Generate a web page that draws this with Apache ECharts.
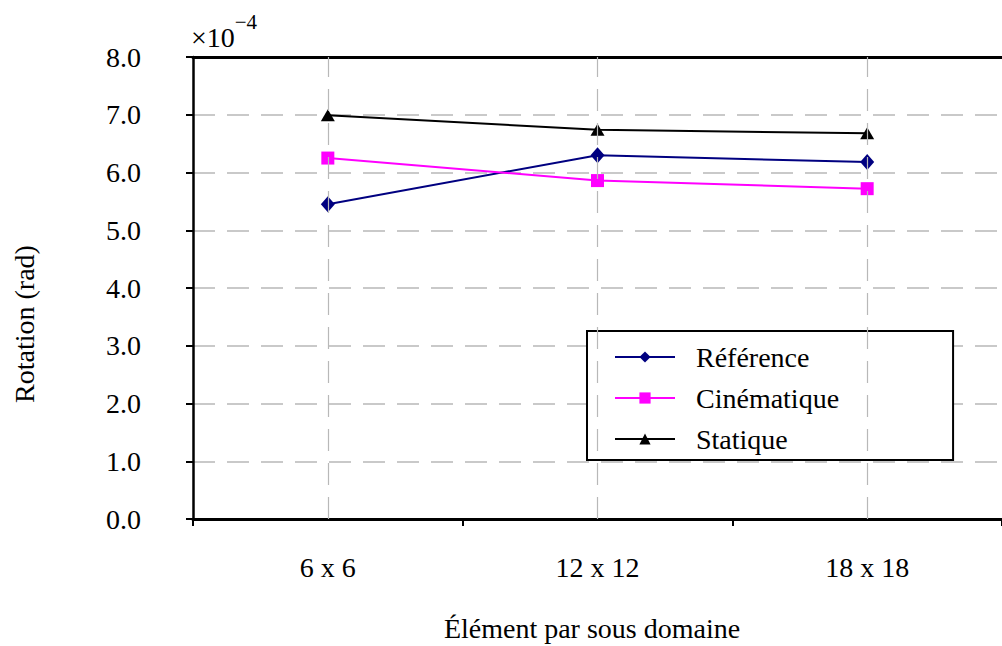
<!DOCTYPE html>
<html>
<head>
<meta charset="utf-8">
<title>Rotation par sous domaine</title>
<script src="https://cdn.jsdelivr.net/npm/echarts@6/dist/echarts.min.js"></script>
<style>
  html, body { margin: 0; padding: 0; background: #ffffff; }
  #chart { width: 1002px; height: 646px; }
</style>
</head>
<body>
<div id="chart"></div>
<script>
// Maillage : nombre d'éléments par sous domaine
const categories = ['6 x 6', '12 x 12', '18 x 18'];

// Rotation en unités de 1e-4 rad
const reference   = [5.45, 6.30, 6.18];
const cinematique = [6.25, 5.86, 5.72];
const statique    = [6.99, 6.74, 6.68];

const yMin = 0, yMax = 8, yStep = 1;

const FONT = '"Liberation Serif", "Times New Roman", serif';
const GRID_GRAY = '#b8b8b8';

const chart = echarts.init(document.getElementById('chart'), null, { renderer: 'svg' });

chart.setOption({
  backgroundColor: '#ffffff',
  animation: false,
  title: {
    text: '{m|×10}{s|−4}',
    left: 186,
    top: 6,
    textStyle: {
      fontWeight: 'normal',
      rich: {
        m: { fontFamily: FONT, fontSize: 28, fontWeight: 'normal', color: '#000', verticalAlign: 'bottom', padding: [12, 0, 0, 0] },
        s: { fontFamily: FONT, fontSize: 21, fontWeight: 'normal', color: '#000', verticalAlign: 'top' }
      }
    }
  },
  grid: { left: 193, top: 57, width: 816, height: 462, containLabel: false },
  legend: {
    orient: 'vertical',
    left: 587,
    top: 331,
    itemWidth: 60,
    itemHeight: 14,
    itemGap: 13,
    padding: [12, 114, 7, 27],
    borderColor: '#000',
    borderWidth: 2,
    backgroundColor: '#ffffff',
    textStyle: { fontFamily: FONT, fontSize: 28, color: '#000', padding: [0, 0, 0, 16] },
    data: ['Référence', 'Cinématique', 'Statique']
  },
  xAxis: [
    {
      type: 'category',
      data: categories,
      position: 'bottom',
      boundaryGap: true,
      axisLine: { lineStyle: { color: '#000', width: 3 } },
      axisTick: { show: true, length: 7, lineStyle: { color: '#000', width: 2 } },
      axisLabel: { fontFamily: FONT, fontSize: 28, color: '#000', margin: 34 },
      splitLine: { show: false }
    },
    {
      type: 'category',
      data: categories,
      position: 'top',
      boundaryGap: true,
      axisLine: { lineStyle: { color: '#000', width: 3 } },
      axisTick: { show: false },
      axisLabel: { show: false },
      splitLine: { show: false }
    }
  ],
  yAxis: {
    type: 'value',
    min: yMin,
    max: yMax,
    interval: yStep,
    axisLine: { show: true, lineStyle: { color: '#000', width: 2.5 } },
    axisTick: { show: true, inside: false, length: 7, lineStyle: { color: '#000', width: 2 } },
    axisLabel: {
      fontFamily: FONT, fontSize: 28, color: '#000', margin: 52,
      formatter: v => v.toFixed(1)
    },
    splitLine: { show: true, lineStyle: { color: GRID_GRAY, width: 1.5, type: [22, 12] } }
  },
  series: [
    {
      // lignes verticales pointillées au centre de chaque catégorie
      name: 'grille',
      type: 'line',
      data: [],
      silent: true,
      z: 1,
      markLine: {
        silent: true,
        symbol: 'none',
        label: { show: false },
        lineStyle: { color: GRID_GRAY, width: 1.2, type: [22, 12] },
        data: categories.map(c => ({ xAxis: c }))
      }
    },
    {
      name: 'Référence',
      type: 'line',
      data: reference,
      color: '#000080',
      lineStyle: { width: 2, color: '#000080' },
      symbol: 'diamond',
      symbolSize: [14, 16],
      itemStyle: { color: '#000080' },
      z: 3
    },
    {
      name: 'Cinématique',
      type: 'line',
      data: cinematique,
      color: '#ff00ff',
      lineStyle: { width: 2, color: '#ff00ff' },
      symbol: 'rect',
      symbolSize: 13,
      itemStyle: { color: '#ff00ff' },
      z: 3
    },
    {
      name: 'Statique',
      type: 'line',
      data: statique,
      color: '#000000',
      lineStyle: { width: 2, color: '#000000' },
      symbol: 'triangle',
      symbolSize: [14, 12],
      itemStyle: { color: '#000000' },
      z: 3
    }
  ],
  graphic: [
    {
      type: 'text',
      x: 24,
      y: 324,
      rotation: Math.PI / 2,
      style: {
        text: 'Rotation (rad)',
        font: '28px ' + FONT,
        fill: '#000',
        align: 'center',
        verticalAlign: 'middle',
        textAlign: 'center',
        textVerticalAlign: 'middle'
      }
    },
    {
      type: 'text',
      x: 592,
      y: 628,
      style: {
        text: 'Élément par sous domaine',
        font: '28px ' + FONT,
        fill: '#000',
        align: 'center',
        verticalAlign: 'middle',
        textAlign: 'center',
        textVerticalAlign: 'middle'
      }
    }
  ]
});
</script>
</body>
</html>
